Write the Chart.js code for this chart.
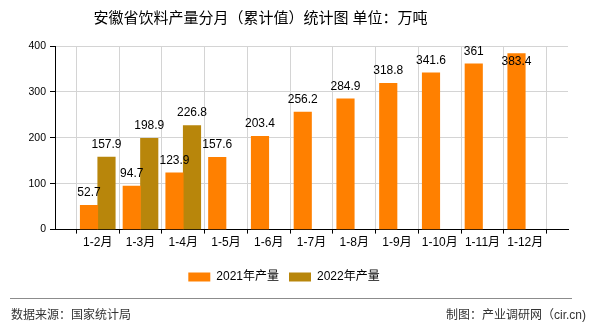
<!DOCTYPE html>
<html>
<head>
<meta charset="utf-8">
<script src="https://cdn.jsdelivr.net/npm/chart.js@4/dist/chart.umd.min.js"></script>
<style>
  html, body { margin: 0; padding: 0; background: #fff; }
  #wrap { width: 590px; height: 330px; }
</style>
</head>
<body>
<div id="wrap"><canvas id="chart" width="590" height="330"></canvas></div>
<script>
const months = ["1-2月", "1-3月", "1-4月", "1-5月", "1-6月", "1-7月", "1-8月", "1-9月", "1-10月", "1-11月", "1-12月"];
const output2021 = [52.7, 94.7, 123.9, 157.6, 203.4, 256.2, 284.9, 318.8, 341.6, 361, 383.4];
const output2022 = [157.9, 198.9, 226.8, null, null, null, null, null, null, null, null];
const yTicks = [0, 100, 200, 300, 400];

const FONT = "'Liberation Sans', 'Noto Sans CJK SC', sans-serif";
const TITLE = "安徽省饮料产量分月（累计值）统计图 单位：万吨";

// blank slot at each end so labels sit on the grid lines
const labels = [""].concat(months, [""]);
const pad = (arr) => [null].concat(arr, [null]);

// value labels above bars
const barLabels = {
  id: "barLabels",
  afterDatasetsDraw(chart) {
    const ctx = chart.ctx;
    const top = chart.chartArea.top;
    ctx.save();
    ctx.font = "12px " + FONT;
    ctx.fillStyle = "#000";
    ctx.textAlign = "center";
    ctx.textBaseline = "middle";
    chart.data.datasets.forEach((ds, i) => {
      chart.getDatasetMeta(i).data.forEach((bar, j) => {
        const v = ds.data[j];
        if (v === null || v === undefined) return;
        let y = bar.y - 12.5;
        if (y < top) y = bar.y + 8;
        ctx.fillText(String(v), bar.x, y);
      });
    });
    ctx.restore();
  },
};

// title on top, source line at the bottom
const frame = {
  id: "frame",
  afterDraw(chart) {
    const ctx = chart.ctx;
    ctx.save();
    ctx.font = "15px " + FONT;
    ctx.fillStyle = "#000";
    ctx.textAlign = "center";
    ctx.textBaseline = "middle";
    ctx.fillText(TITLE, 260.5, 18.5);

    ctx.strokeStyle = "#8c8c8c";
    ctx.lineWidth = 1;
    ctx.beginPath();
    ctx.moveTo(10, 298.5);
    ctx.lineTo(572, 298.5);
    ctx.stroke();
    ctx.font = "12px " + FONT;
    ctx.fillStyle = "#333";
    ctx.textAlign = "left";
    ctx.fillText("数据来源：国家统计局", 11, 316);
    ctx.textAlign = "right";
    ctx.fillText("制图：产业调研网（cir.cn)", 586, 316);
    ctx.restore();
  },
};

new Chart(document.getElementById("chart"), {
  type: "bar",
  data: {
    labels: labels,
    datasets: [
      {
        label: "2021年产量",
        data: pad(output2021),
        backgroundColor: "#ff8000",
        barThickness: 17.5,
      },
      {
        label: "2022年产量",
        data: pad(output2022),
        backgroundColor: "#b8860b",
        barThickness: 17.5,
      },
    ],
  },
  options: {
    responsive: false,
    animation: false,
    layout: { padding: { left: 0, right: 22, top: 46, bottom: 37 } },
    scales: {
      x: {
        offset: false,
        grid: { color: "#d4d4d4", tickColor: "#000", tickLength: 4 },
        border: { color: "#000", width: 1 },
        ticks: {
          autoSkip: false,
          maxRotation: 0,
          padding: 2,
          color: "#000",
          font: { family: FONT, size: 12 },
        },
        afterFit(scale) { scale.height = 31.4; },
      },
      y: {
        min: 0,
        max: 400,
        grid: { color: "#d4d4d4", tickColor: "#000", tickLength: 5 },
        border: { color: "#000", width: 1 },
        ticks: {
          padding: 4,
          color: "#000",
          font: { family: FONT, size: 10.5 },
        },
        afterBuildTicks(scale) { scale.ticks = yTicks.map((v) => ({ value: v })); },
        afterFit(scale) { scale.width = 55; },
      },
    },
    plugins: {
      title: { display: false },
      legend: {
        position: "bottom",
        labels: {
          boxWidth: 22,
          boxHeight: 9,
          padding: 10,
          color: "#000",
          font: { family: FONT, size: 12 },
        },
      },
      tooltip: { enabled: false },
    },
  },
  plugins: [barLabels, frame],
});
</script>
</body>
</html>
